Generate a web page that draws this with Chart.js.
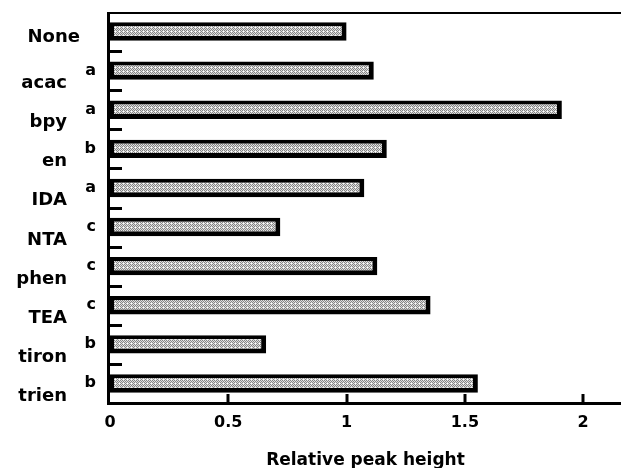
<!DOCTYPE html>
<html>
<head>
<meta charset="utf-8">
<script src="https://cdn.jsdelivr.net/npm/chart.js@4/dist/chart.umd.min.js"></script>
<style>
html,body{margin:0;padding:0;background:#fff;}
#c{display:block;}
</style>
</head>
<body>
<canvas id="c" width="621" height="468"></canvas>
<script>
const categories = ['None','acac','bpy','en','IDA','NTA','phen','TEA','tiron','trien'];
const values = [1.0, 1.115, 1.91, 1.17, 1.075, 0.72, 1.13, 1.355, 0.66, 1.555];
const groupLetters = ['', 'a', 'a', 'b', 'a', 'c', 'c', 'c', 'b', 'b'];
const xTicks = [0, 0.5, 1, 1.5, 2];
const xTitle = 'Relative peak height';

const FONT = '"DejaVu Sans", Verdana, sans-serif';

function makePattern() {
  const p = document.createElement('canvas');
  p.width = 4; p.height = 4;
  const g = p.getContext('2d');
  g.fillStyle = '#e0e0e0';
  g.fillRect(0, 0, 4, 4);
  g.fillStyle = '#858585';
  const pts = [[0,0],[2,0],[1,1],[3,1],[0,2],[2,2],[1,3]];
  pts.forEach(([x,y]) => g.fillRect(x, y, 1, 1));
  g.fillStyle = '#ffffff';
  g.fillRect(3,3,1,1);
  return document.getElementById('c').getContext('2d').createPattern(p, 'repeat');
}

const framePlugin = {
  id: 'frame',
  afterDatasetsDraw(chart) {
    const ctx = chart.ctx;
    const a = chart.chartArea;
    const xs = chart.scales.x, ys = chart.scales.y;
    ctx.save();
    ctx.strokeStyle = '#000';
    ctx.lineCap = 'butt';
    // top line
    ctx.lineWidth = 2;
    ctx.beginPath(); ctx.moveTo(a.left - 1, a.top + 1); ctx.lineTo(a.right, a.top + 1); ctx.stroke();
    // left axis
    ctx.lineWidth = 3;
    ctx.beginPath(); ctx.moveTo(a.left - 1.5, a.top); ctx.lineTo(a.left - 1.5, a.bottom + 1.5); ctx.stroke();
    // bottom axis
    ctx.beginPath(); ctx.moveTo(a.left - 3, a.bottom + 0.5); ctx.lineTo(a.right, a.bottom + 0.5); ctx.stroke();
    // x ticks inward
    xTicks.forEach(v => {
      const x = Math.round(xs.getPixelForValue(v));
      if (v === 0) return;
      ctx.beginPath(); ctx.moveTo(x, a.bottom); ctx.lineTo(x, a.bottom - 9); ctx.stroke();
    });
    // y ticks between categories, inward
    for (let i = 1; i < categories.length; i++) {
      const y = Math.round((ys.getPixelForValue(i - 1) + ys.getPixelForValue(i)) / 2) + 0.5;
      ctx.beginPath(); ctx.moveTo(a.left - 3, y); ctx.lineTo(a.left + 12, y); ctx.stroke();
    }
    // category labels and group letters
    ctx.fillStyle = '#000';
    ctx.textBaseline = 'alphabetic';
    categories.forEach((c, i) => {
      const y = ys.getPixelForValue(i);
      ctx.font = 'bold 18px ' + FONT;
      ctx.textAlign = 'right';
      if (groupLetters[i]) {
        ctx.fillText(c, 67, y + 17.5);
        ctx.font = 'bold 16px ' + FONT;
        ctx.fillText(groupLetters[i], 96, y + 4);
      } else {
        ctx.fillText(c, 80, y + 10.5);
      }
    });
    ctx.restore();
  }
};

new Chart(document.getElementById('c'), {
  type: 'bar',
  data: {
    labels: categories,
    datasets: [{
      data: values,
      backgroundColor: makePattern(),
      borderColor: '#000',
      borderWidth: { top: 4, left: 4, right: 5, bottom: 5 },
      borderSkipped: false,
      barPercentage: 0.47,
      categoryPercentage: 1.0
    }]
  },
  options: {
    indexAxis: 'y',
    responsive: false,
    animation: false,
    devicePixelRatio: 1,
    layout: { padding: { top: 12, right: 0, bottom: 0, left: 0 } },
    plugins: { legend: { display: false }, tooltip: { enabled: false } },
    scales: {
      y: {
        type: 'category',
        offset: true,
        grid: { display: false, drawTicks: false },
        border: { display: false },
        ticks: { display: false },
        afterFit(s) { s.width = 110; }
      },
      x: {
        type: 'linear',
        min: 0,
        max: 2.16,
        afterBuildTicks(s) { s.ticks = xTicks.map(v => ({ value: v })); },
        grid: { display: false, drawTicks: false },
        border: { display: false },
        ticks: {
          color: '#000',
          font: { family: FONT, size: 16, weight: 'bold' },
          padding: 10,
          maxRotation: 0,
          autoSkip: false,
          callback: v => String(v)
        },
        title: {
          display: true,
          text: xTitle,
          color: '#000',
          font: { family: FONT, size: 17, weight: 'bold' },
          padding: { top: 14, bottom: -3 }
        },
        afterFit(s) { s.height = 65; }
      }
    }
  },
  plugins: [framePlugin]
});
</script>
</body>
</html>
